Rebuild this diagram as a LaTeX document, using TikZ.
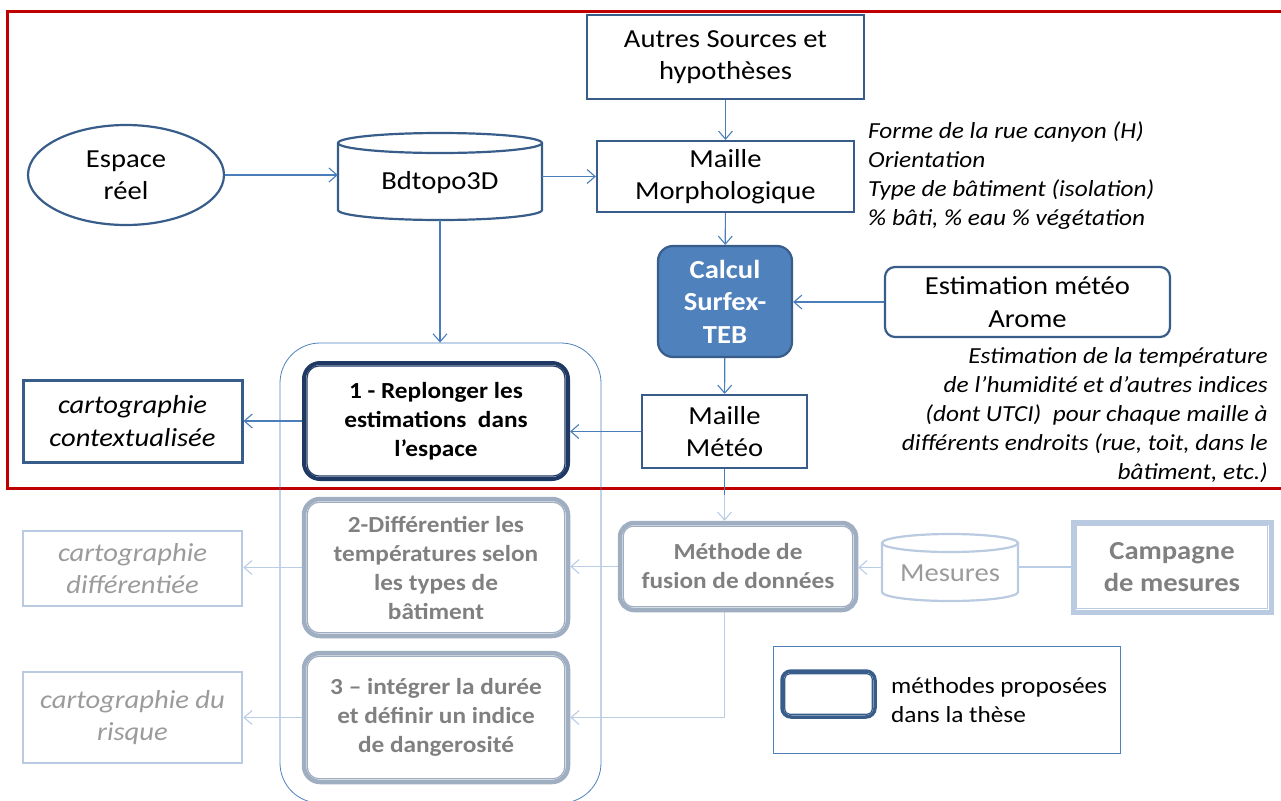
\documentclass[tikz,border=0pt]{standalone}
\usepackage{fontspec}
\setmainfont{Carlito}[FakeStretch=1.1]
\usetikzlibrary{arrows.meta,calc,shapes.geometric}
\definecolor{framered}{RGB}{192,0,0}
\definecolor{bord}{RGB}{56,93,138}
\definecolor{arr}{RGB}{74,126,187}
\definecolor{navy}{RGB}{31,56,100}
\definecolor{calcfill}{RGB}{79,129,189}
\definecolor{gbord}{RGB}{160,174,194}
\definecolor{gtext}{RGB}{128,128,128}
\definecolor{lbord}{RGB}{185,202,225}
\definecolor{larr}{RGB}{185,205,229}
\definecolor{ltext}{RGB}{155,155,155}
\newcommand\fsA{\fontsize{26pt}{32.5pt}\selectfont}
\newcommand\fsB{\fontsize{23pt}{29pt}\selectfont}
\newcommand\innerline[4]{\draw[#2, line width=1.2pt, rounded corners=#4] ([shift={(#3,#3)}]#1.south west) rectangle ([shift={(-#3,-#3)}]#1.north east);}
\begin{document}
\begin{tikzpicture}[x=1pt,y=-1pt,
  box/.style={draw=bord, line width=2.2pt, inner sep=0pt, align=center, font=\fsA, text=black},
  arrow/.style={draw=arr, line width=1.1pt, -{Straight Barb[length=8pt,width=14pt]}},
  larrow/.style={draw=larr, line width=1.1pt, -{Straight Barb[length=8pt,width=14pt]}},
  lline/.style={draw=larr, line width=1.1pt},
  navybox/.style={draw=navy, line width=4pt, rounded corners=16pt, inner sep=0pt, align=center, font=\fsB\bfseries, text=black},
  graybox/.style={draw=gbord, line width=4.5pt, rounded corners=16pt, inner sep=0pt, align=center, font=\fsB\bfseries, text=gtext},
  lbox/.style={draw=lbord, line width=2.5pt, inner sep=0pt, align=center, font=\fsA\itshape, text=ltext},
  note/.style={inner sep=0pt, font=\fsB\itshape, text=black}
]
\useasboundingbox (0,0) rectangle (1281,800);
\draw[framered, line width=3pt] (1300,12) -- (7,12) -- (7,488) -- (1300,488);

% container
\node[draw=calcfill, line width=0.8pt, rounded corners=40pt, minimum width=321pt, minimum height=460pt] (cont) at (440.5,573) {};

% top part
\node[box] (autres) at (725.5,57) [minimum width=277pt, minimum height=84pt] {Autres Sources et\\hypothèses};
\node[box] (morph) at (725.5,176.5) [minimum width=257pt, minimum height=71pt] {Maille\\Morphologique};
\node[box, ellipse, minimum width=196pt, minimum height=100pt] (esp) at (126,175) {Espace\\réel};
\node[inner sep=0pt, minimum width=204pt, minimum height=87pt] (bd) at (440,176.5) {};
\draw[bord, line width=2.2pt] (440,143) ellipse [x radius=102pt, y radius=10pt];
\draw[bord, line width=2.2pt] (338,143) -- (338,210) arc[start angle=180, end angle=360, x radius=102pt, y radius=10pt] -- (542,143);
\node[inner sep=0pt, font=\fsA] (bdtxt) at (440,183) {Bdtopo3D};

\node[box, fill=calcfill, rounded corners=15pt, minimum width=134pt, minimum height=111pt, text=white, font=\fsA\bfseries] (calc) at (725,301.5) {Calcul\\Surfex-\\TEB};
\node[box, rounded corners=10pt, minimum width=285pt, minimum height=70pt] (arome) at (1027.5,302) {Estimation météo\\Arome};
\node[box, minimum width=165pt, minimum height=73pt] (mm) at (724.5,431.5) {Maille\\Météo};

\node[note, anchor=west, align=left] (n1) at (868,176) {Forme de la rue canyon (H)\\Orientation\\Type de bâtiment (isolation)\\\% bâti, \% eau \% végétation};
\node[note, anchor=east, align=right] (n2) at (1268,415.5) {Estimation de la température\\de l’humidité et d’autres indices\\(dont UTCI)\ \ pour chaque maille à\\différents endroits (rue, toit, dans le\\bâtiment, etc.)};

\node[navybox, minimum width=264pt, minimum height=116pt] (b1) at (436,421) {1 - Replonger les\\estimations\ \ dans\\l’espace};
\innerline{b1}{navy}{5pt}{12pt}
\node[box, line width=3pt, minimum width=219pt, minimum height=82pt, font=\fsA\itshape] (cc) at (132.5,421) {cartographie\\contextualisée};

% lower part
\node[graybox, minimum width=264pt, minimum height=137pt] (b2) at (436,567.5) {2-Différentier les\\températures selon\\les types de\\bâtiment};
\innerline{b2}{gbord}{5.5pt}{12pt}
\node[graybox, minimum width=264pt, minimum height=129pt] (b3) at (436,717.5) {3 – intégrer la durée\\et définir un indice\\de dangerosité};
\innerline{b3}{gbord}{5.5pt}{12pt}
\node[lbox, minimum width=219pt, minimum height=75pt] (cd) at (132.5,568.5) {cartographie\\différentiée};
\node[lbox, minimum width=219pt, minimum height=91pt] (cr) at (132.5,717.5) {cartographie du\\risque};

\node[graybox, rounded corners=14pt, minimum width=236pt, minimum height=87pt] (meth) at (738,566.5) {Méthode de\\fusion de données};
\innerline{meth}{gbord}{5.5pt}{10pt}

\node[inner sep=0pt, minimum width=136pt, minimum height=67pt] (mes) at (950,567.5) {};
\draw[lbord, line width=2.2pt] (950,543) ellipse [x radius=68pt, y radius=9pt];
\draw[lbord, line width=2.2pt] (882,543) -- (882,592) arc[start angle=180, end angle=360, x radius=68pt, y radius=9pt] -- (1018,543);
\node[inner sep=0pt, font=\fsA, text=ltext] (mestxt) at (950,573) {Mesures};

\node[draw=lbord, line width=5pt, inner sep=0pt, minimum width=198pt, minimum height=90pt, align=center, font=\fsA\bfseries, text=gtext] (camp) at (1172,567) {Campagne\\de mesures};
\innerline{camp}{lbord}{6pt}{0pt}

% legend
\node[draw=calcfill, line width=1pt, minimum width=347pt, minimum height=107pt, inner sep=0pt] (leg) at (946.5,699.5) {};
\node[draw=bord, line width=3.5pt, rounded corners=9pt, minimum width=93pt, minimum height=46pt, inner sep=0pt] (legbox) at (828.5,694) {};
\innerline{legbox}{bord}{4.5pt}{5pt}
\node[inner sep=0pt, anchor=west, align=left, font=\fsB] (legtxt) at (891,700.5) {méthodes proposées\\dans la thèse};

% connectors
\draw[arrow] (autres) -- (morph);
\draw[arrow] (esp.east) -- (esp.east -| bd.west);
\draw[arrow] (bd.east) -- (bd.east -| morph.west);
\draw[arrow] (bd.south) -- (bd.south |- cont.north);
\draw[arrow] (morph) -- (calc);
\draw[arrow] (arome.west) -- (arome.west -| calc.east);
\draw[arrow] (calc) -- (mm);
\draw[arrow] (mm.west) -- (mm.west -| b1.east);
\draw[arrow] (b1.west) -- (b1.west -| cc.east);
\draw[draw=arr, line width=1.1pt] (mm.south) -- ($(mm.south)!0.5!(mm.south |- meth.north)$);
\draw[larrow] ($(mm.south)!0.5!(mm.south |- meth.north)$) -- (mm.south |- meth.north);
\draw[larrow] (meth.west) -- (meth.west -| b2.east);
\draw[larrow] (mm.south |- meth.south) -- (mm.south |- b3.east) -- (b3.east);
\draw[larrow] (mes.west) -- (mes.west -| meth.east);
\draw[lline] (camp.west) -- (camp.west -| mes.east);
\draw[larrow] (b2.west) -- (b2.west -| cd.east);
\draw[larrow] (b3.west) -- (b3.west -| cr.east);
\end{tikzpicture}
\end{document}
